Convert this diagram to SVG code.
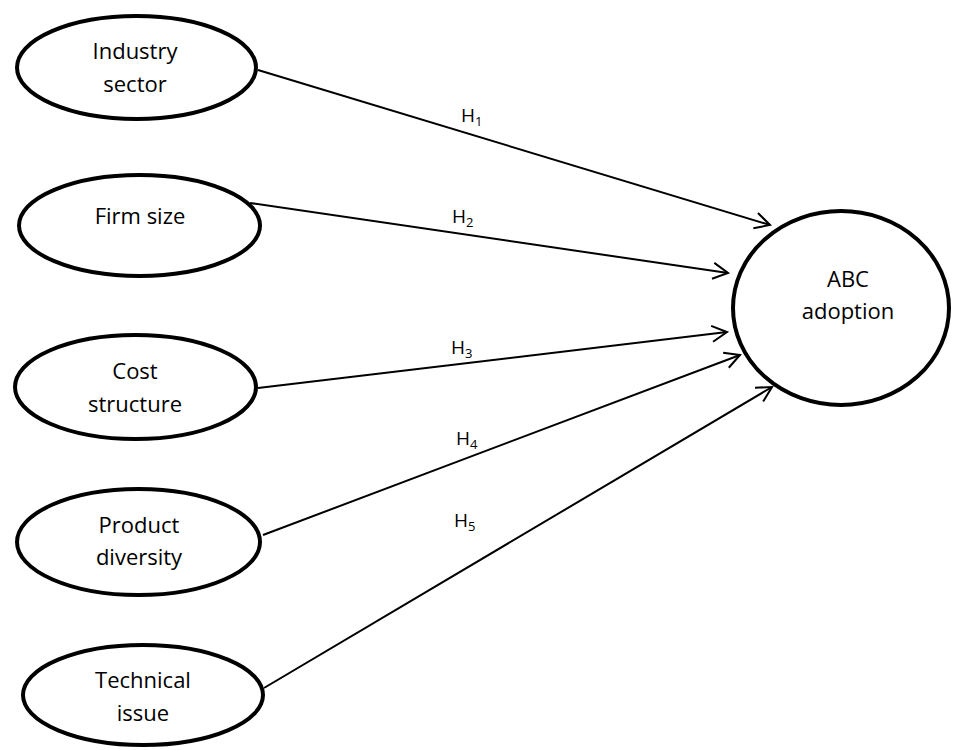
<svg xmlns="http://www.w3.org/2000/svg" width="953" height="750" viewBox="0 0 953 750">
<style>
.node { fill: #ffffff; stroke: #000000; stroke-width: 4; }
.lbl { font-family: "Open Sans", "Liberation Sans", sans-serif; font-size: 22px; fill: #000000; text-anchor: middle; }
.h { font-family: "Open Sans", "Liberation Sans", sans-serif; font-size: 19px; fill: #000000; }
.sub { font-size: 13px; }
.edge { stroke: #000000; stroke-width: 2; fill: none; marker-end: url(#arr); }
</style>
<defs>
<marker id="arr" markerUnits="userSpaceOnUse" markerWidth="20" markerHeight="20" viewBox="-17 -10 19 20" refX="0" refY="0" orient="auto">
<path d="M -15 -8 L 0 0 L -15 8" fill="none" stroke="#000000" stroke-width="2"/>
</marker>
</defs>
<rect width="953" height="750" fill="#ffffff"/>
<g id="connectors">
<line class="edge" x1="258" y1="70" x2="770" y2="225"/>
<line class="edge" x1="250" y1="203" x2="728" y2="273"/>
<line class="edge" x1="258" y1="388" x2="727" y2="332"/>
<line class="edge" x1="263" y1="535" x2="740" y2="355"/>
<line class="edge" x1="264" y1="688" x2="772" y2="387"/>
<text class="h" x="461" y="122">H<tspan class="sub" dy="4">1</tspan></text>
<text class="h" x="452" y="223">H<tspan class="sub" dy="4">2</tspan></text>
<text class="h" x="451" y="354">H<tspan class="sub" dy="4">3</tspan></text>
<text class="h" x="456" y="445">H<tspan class="sub" dy="4">4</tspan></text>
<text class="h" x="454" y="527">H<tspan class="sub" dy="4">5</tspan></text>
</g>
<g id="industry-sector">
<ellipse class="node" cx="136.5" cy="67.5" rx="119.5" ry="51.5"/>
<text class="lbl" x="135" y="59">Industry</text>
<text class="lbl" x="135" y="92">sector</text>
</g>
<g id="firm-size">
<ellipse class="node" cx="139.5" cy="225.5" rx="120.5" ry="50.5"/>
<text class="lbl" x="140" y="224">Firm size</text>
</g>
<g id="cost-structure">
<ellipse class="node" cx="135.5" cy="387" rx="120.5" ry="52"/>
<text class="lbl" x="135" y="379">Cost</text>
<text class="lbl" x="135" y="412">structure</text>
</g>
<g id="product-diversity">
<ellipse class="node" cx="138.5" cy="542" rx="121.5" ry="53"/>
<text class="lbl" x="139" y="533">Product</text>
<text class="lbl" x="139" y="565">diversity</text>
</g>
<g id="technical-issue">
<ellipse class="node" cx="143" cy="695" rx="120" ry="50"/>
<text class="lbl" x="143" y="688">Technical</text>
<text class="lbl" x="143" y="721">issue</text>
</g>
<g id="abc-adoption">
<ellipse class="node" cx="841" cy="308" rx="108" ry="97"/>
<text class="lbl" x="848" y="287">ABC</text>
<text class="lbl" x="848" y="319">adoption</text>
</g>
</svg>
